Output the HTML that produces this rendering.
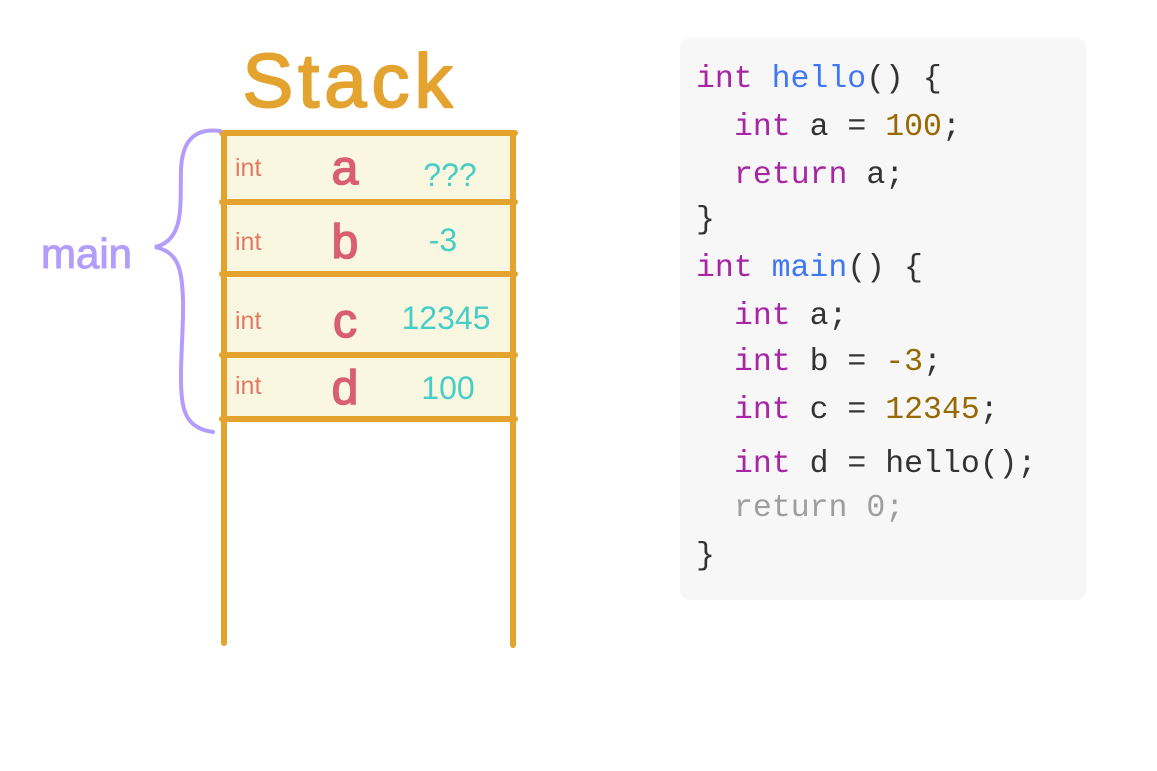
<!DOCTYPE html>
<html><head><meta charset="utf-8"><style>
html,body{margin:0;padding:0;background:#fff;width:1157px;height:771px;overflow:hidden}
</style></head><body>
<svg width="1157" height="771" viewBox="0 0 1157 771" xmlns="http://www.w3.org/2000/svg">
<rect x="0" y="0" width="1157" height="771" fill="#fff"/>
<!-- Stack title -->
<text x="350" y="107" text-anchor="middle" font-family="Liberation Sans, sans-serif" font-size="76" fill="#e4a22f" stroke="#e4a22f" stroke-width="2" stroke-linejoin="round" letter-spacing="5">Stack</text>
<!-- cells -->
<g fill="#faf7e1">
<rect x="227" y="136" width="284" height="65"/>
<rect x="227" y="205" width="284" height="67"/>
<rect x="227" y="278" width="284" height="75"/>
<rect x="227" y="358" width="284" height="58"/>
</g>
<g stroke="#e4a22f" stroke-width="6" stroke-linecap="round" fill="none">
<line x1="224" y1="133" x2="224" y2="643"/>
<line x1="513" y1="133" x2="513" y2="645"/>
<line x1="222" y1="133" x2="515" y2="133"/>
<line x1="222" y1="202" x2="515" y2="202"/>
<line x1="222" y1="274" x2="515" y2="274"/>
<line x1="222" y1="355" x2="515" y2="355"/>
<line x1="222" y1="419" x2="515" y2="419"/>
</g>
<g font-family="Liberation Sans, sans-serif">
<g fill="#e07a65" font-size="25">
<text x="235" y="176">int</text>
<text x="235" y="250">int</text>
<text x="235" y="329">int</text>
<text x="235" y="394">int</text>
</g>
<g fill="#d95f6e" font-size="48" text-anchor="middle" stroke="#d95f6e" stroke-width="1.5">
<text x="345" y="184">a</text>
<text x="345" y="258">b</text>
<text x="345" y="337">c</text>
<text x="345" y="404">d</text>
</g>
<g fill="#46cdc8" font-size="32" text-anchor="middle">
<text x="450" y="186">???</text>
<text x="443" y="251">-3</text>
<text x="446" y="329">12345</text>
<text x="448" y="399">100</text>
</g>
</g>
<!-- brace -->
<path d="M220 131 C195 128 182 140 181 170 C180 205 185 240 155 247 C178 252 182 268 183 300 C184 330 178 380 183 405 C187 425 200 430 213 432" stroke="#b29dfc" stroke-width="4" fill="none" stroke-linecap="round"/>
<text x="41" y="268" font-family="Liberation Sans, sans-serif" font-size="42" fill="#b29dfc" stroke="#b29dfc" stroke-width="1">main</text>
<!-- code box -->
<rect x="680" y="38" width="406" height="562" rx="10" fill="#f7f7f7"/>
<g font-family="Liberation Mono, monospace" font-size="31.5" fill="#333" stroke-width="0.6">
<text x="696" y="87"><tspan fill="#a626a4">int</tspan> <tspan fill="#4078f2">hello</tspan>() {</text>
<text x="734" y="135"><tspan fill="#a626a4">int</tspan> a = <tspan fill="#986801">100</tspan>;</text>
<text x="734" y="183"><tspan fill="#a626a4">return</tspan> a;</text>
<text x="696" y="228">}</text>
<text x="696" y="276"><tspan fill="#a626a4">int</tspan> <tspan fill="#4078f2">main</tspan>() {</text>
<text x="734" y="324"><tspan fill="#a626a4">int</tspan> a;</text>
<text x="734" y="370"><tspan fill="#a626a4">int</tspan> b = <tspan fill="#986801">-3</tspan>;</text>
<text x="734" y="418"><tspan fill="#a626a4">int</tspan> c = <tspan fill="#986801">12345</tspan>;</text>
<text x="734" y="472"><tspan fill="#a626a4">int</tspan> d = hello();</text>
<text x="734" y="516" fill="#9e9e9e">return 0;</text>
<text x="696" y="564">}</text>
</g>
</svg>
</body></html>
